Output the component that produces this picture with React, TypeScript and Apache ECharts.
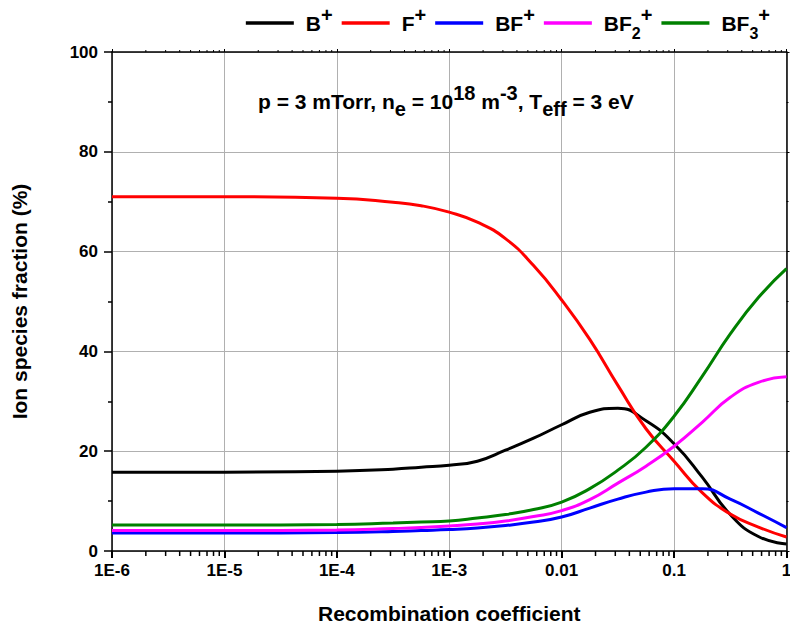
import React, { useEffect, useRef } from 'react';
import * as echarts from 'echarts';

const xValues = [1e-6, 1e-5, 1e-4, 3.162e-4, 5.623e-4, 1e-3, 1.778e-3, 3.162e-3, 5.623e-3, 1e-2, 1.778e-2, 3.162e-2, 5.623e-2, 0.1, 0.1778, 0.3162, 0.5623, 1];

const seriesNames = ['B+', 'F+', 'BF+', 'BF2+', 'BF3+'];
const seriesColors = ['#000000', '#ff0000', '#0000ff', '#ff00ff', '#008000'];

const bPlus = [15.8, 15.8, 16.0, 16.4, 16.8, 17.2, 18.0, 20.2, 22.6, 25.3, 27.8, 28.6, 26.1, 21.5, 14.8, 7.3, 2.9, 1.4];
const fPlus = [71.0, 71.0, 70.7, 69.9, 69.2, 67.9, 65.9, 62.6, 57.2, 50.3, 42.4, 33.2, 24.5, 18.0, 11.7, 7.4, 4.8, 2.8];
const bfPlus = [3.6, 3.6, 3.7, 3.9, 4.1, 4.3, 4.6, 5.1, 5.8, 6.8, 8.6, 10.4, 11.8, 12.5, 12.5, 10.4, 7.6, 4.7];
const bf2Plus = [4.1, 4.1, 4.2, 4.5, 4.7, 5.0, 5.4, 6.0, 6.9, 8.1, 10.3, 13.6, 17.0, 21.0, 25.8, 30.8, 33.8, 34.9];
const bf3Plus = [5.2, 5.2, 5.3, 5.6, 5.8, 6.0, 6.6, 7.3, 8.3, 9.8, 12.5, 16.2, 20.8, 27.0, 35.0, 43.5, 50.8, 56.6];

const seriesValues = [bPlus, fPlus, bfPlus, bf2Plus, bf3Plus];

const xTickLabels = ['1E-6', '1E-5', '1E-4', '1E-3', '0.01', '0.1', '1'];
const xDecades = [1e-6, 1e-5, 1e-4, 1e-3, 1e-2, 1e-1];
const xMinorMultipliers = [2, 3, 4, 5, 6, 7, 8, 9];

const legendRich: Record<string, string> = {
  'B+': '{f|B}{sup|+}',
  'F+': '{f|F}{sup|+}',
  'BF+': '{f|BF}{sup|+}',
  'BF2+': '{f|BF}{sub|2}{sup|+}',
  'BF3+': '{f|BF}{sub|3}{sup|+}',
};

const FONT = '"Liberation Sans", Arial, sans-serif';

export default function App() {
  const ref = useRef<HTMLDivElement>(null);

  useEffect(() => {
    if (!ref.current) return;
    const chart = echarts.init(ref.current, null, { renderer: 'svg' });

    const minorTickValues: number[] = [];
    xDecades.forEach((d) => xMinorMultipliers.forEach((m) => minorTickValues.push(d * m)));

    const black = '#000000';

    const option: any = {
      animation: false,
      backgroundColor: '#ffffff',
      textStyle: { fontFamily: FONT },
      title: {
        left: 258,
        top: 83,
        padding: 0,
        text: '{n|p = 3 mTorr, n}{sub|e}{n| = 10}{sup|18}{n| m}{sup|-3}{n|, T}{sub|eff}{n| = 3 eV}',
        textStyle: {
          fontFamily: FONT,
          fontSize: 21,
          fontWeight: 'bold',
          color: black,
          rich: {
            n: { fontSize: 21, fontWeight: 'bold', fontFamily: FONT, color: black, lineHeight: 36, verticalAlign: 'middle' },
            sup: { fontSize: 20, fontWeight: 'bold', fontFamily: FONT, color: black, lineHeight: 18, verticalAlign: 'top' },
            sub: { fontSize: 20, fontWeight: 'bold', fontFamily: FONT, color: black, lineHeight: 22, verticalAlign: 'bottom' },
          },
        },
      },
      legend: {
        right: 20,
        top: 5,
        padding: 0,
        itemGap: 9,
        itemWidth: 48,
        itemHeight: 3.5,
        icon: 'rect',
        data: seriesNames,
        formatter: (name: string) => legendRich[name] || name,
        textStyle: {
          fontFamily: FONT,
          fontWeight: 'bold',
          color: black,
          rich: {
            f: { fontSize: 21, fontWeight: 'bold', fontFamily: FONT, color: black, lineHeight: 36, verticalAlign: 'middle', padding: [0, 0, 0, 7] },
            sup: { fontSize: 20, fontWeight: 'bold', fontFamily: FONT, color: black, lineHeight: 18, verticalAlign: 'top' },
            sub: { fontSize: 16, fontWeight: 'bold', fontFamily: FONT, color: black, lineHeight: 16, verticalAlign: 'bottom' },
          },
        },
      },
      grid: { left: 112, right: 3.5, top: 52, bottom: 78, outerBoundsMode: 'none' },
      xAxis: [
        {
          type: 'log',
          logBase: 10,
          position: 'bottom',
          min: 1e-6,
          max: 1,
          name: 'Recombination coefficient',
          nameLocation: 'middle',
          nameGap: 52,
          nameTextStyle: { fontFamily: FONT, fontSize: 21, fontWeight: 'bold', color: black },
          axisLine: { show: true, onZero: false, lineStyle: { color: black, width: 1.5 } },
          axisTick: { show: true, inside: false, length: 7, lineStyle: { color: black, width: 2 } },
          minorTick: { show: false },
          axisLabel: {
            show: true,
            margin: 11,
            fontFamily: FONT,
            fontSize: 17,
            fontWeight: 'bold',
            color: black,
            formatter: (v: number) => {
              const i = Math.round(Math.log10(v)) + 6;
              return xTickLabels[i] ?? '';
            },
          },
          splitLine: { show: true, lineStyle: { color: '#b0b0b0', width: 1 } },
        },
        {
          type: 'log',
          logBase: 10,
          position: 'top',
          min: 1e-6,
          max: 1,
          axisLine: { show: true, onZero: false, lineStyle: { color: black, width: 1.5 } },
          axisTick: { show: true, inside: false, length: 3, lineStyle: { color: black, width: 1 } },
          axisLabel: { show: false },
          splitLine: { show: false },
        },
      ],
      yAxis: [
        {
          type: 'value',
          position: 'left',
          min: 0,
          max: 100,
          interval: 20,
          name: 'Ion species fraction (%)',
          nameLocation: 'middle',
          nameGap: 82,
          nameRotate: 90,
          nameTextStyle: { fontFamily: FONT, fontSize: 21, fontWeight: 'bold', color: black },
          axisLine: { show: true, lineStyle: { color: black, width: 1.5 } },
          axisTick: { show: true, inside: false, length: 8, lineStyle: { color: black, width: 1.5 } },
          minorTick: { show: true, splitNumber: 2, length: 4, lineStyle: { color: black, width: 1.5 } },
          axisLabel: { show: true, margin: 14, fontFamily: FONT, fontSize: 17, fontWeight: 'bold', color: black },
          splitLine: { show: true, lineStyle: { color: '#b0b0b0', width: 1 } },
        },
        {
          type: 'value',
          position: 'right',
          min: 0,
          max: 100,
          interval: 20,
          axisLine: { show: true, lineStyle: { color: black, width: 1.5 } },
          axisTick: { show: true, inside: false, length: 3, lineStyle: { color: black, width: 1 } },
          minorTick: { show: true, splitNumber: 2, length: 2, lineStyle: { color: black, width: 1 } },
          axisLabel: { show: false },
          splitLine: { show: false },
        },
      ],
      series: seriesNames.map((name, k) => ({
        name,
        type: 'line',
        xAxisIndex: 0,
        yAxisIndex: 0,
        data: xValues.map((x, i) => [x, seriesValues[k][i]]),
        smooth: 0.5,
        symbol: 'none',
        showSymbol: false,
        color: seriesColors[k],
        itemStyle: { color: seriesColors[k] },
        lineStyle: { color: seriesColors[k], width: 3 },
        z: 3 + k,
      })),
    };

    chart.setOption(option);

    // Minor (2..9) log ticks, placed through the chart's own axis scales
    let yBottom = Number(chart.convertToPixel({ yAxisIndex: 0 } as any, 0));
    let yTop = Number(chart.convertToPixel({ yAxisIndex: 0 } as any, 100));
    if (!isFinite(yBottom)) yBottom = 551;
    if (!isFinite(yTop)) yTop = 52;
    const tickElements: any[] = [];
    minorTickValues.forEach((v) => {
      const px = Number(chart.convertToPixel({ xAxisIndex: 0 } as any, v));
      if (!isFinite(px)) return;
      tickElements.push({
        type: 'rect',
        silent: true,
        z: 100,
        shape: { x: px - 0.75, y: yBottom, width: 1.5, height: 5 },
        style: { fill: black },
      });
      tickElements.push({
        type: 'rect',
        silent: true,
        z: 100,
        shape: { x: px - 0.5, y: yTop - 2, width: 1, height: 2 },
        style: { fill: black },
      });
    });
    chart.setOption({ graphic: tickElements });

    return () => chart.dispose();
  }, []);

  return (
    <div
      ref={ref}
      style={{ position: 'fixed', left: 0, top: 0, width: 790, height: 629, background: '#fff' }}
    />
  );
}
